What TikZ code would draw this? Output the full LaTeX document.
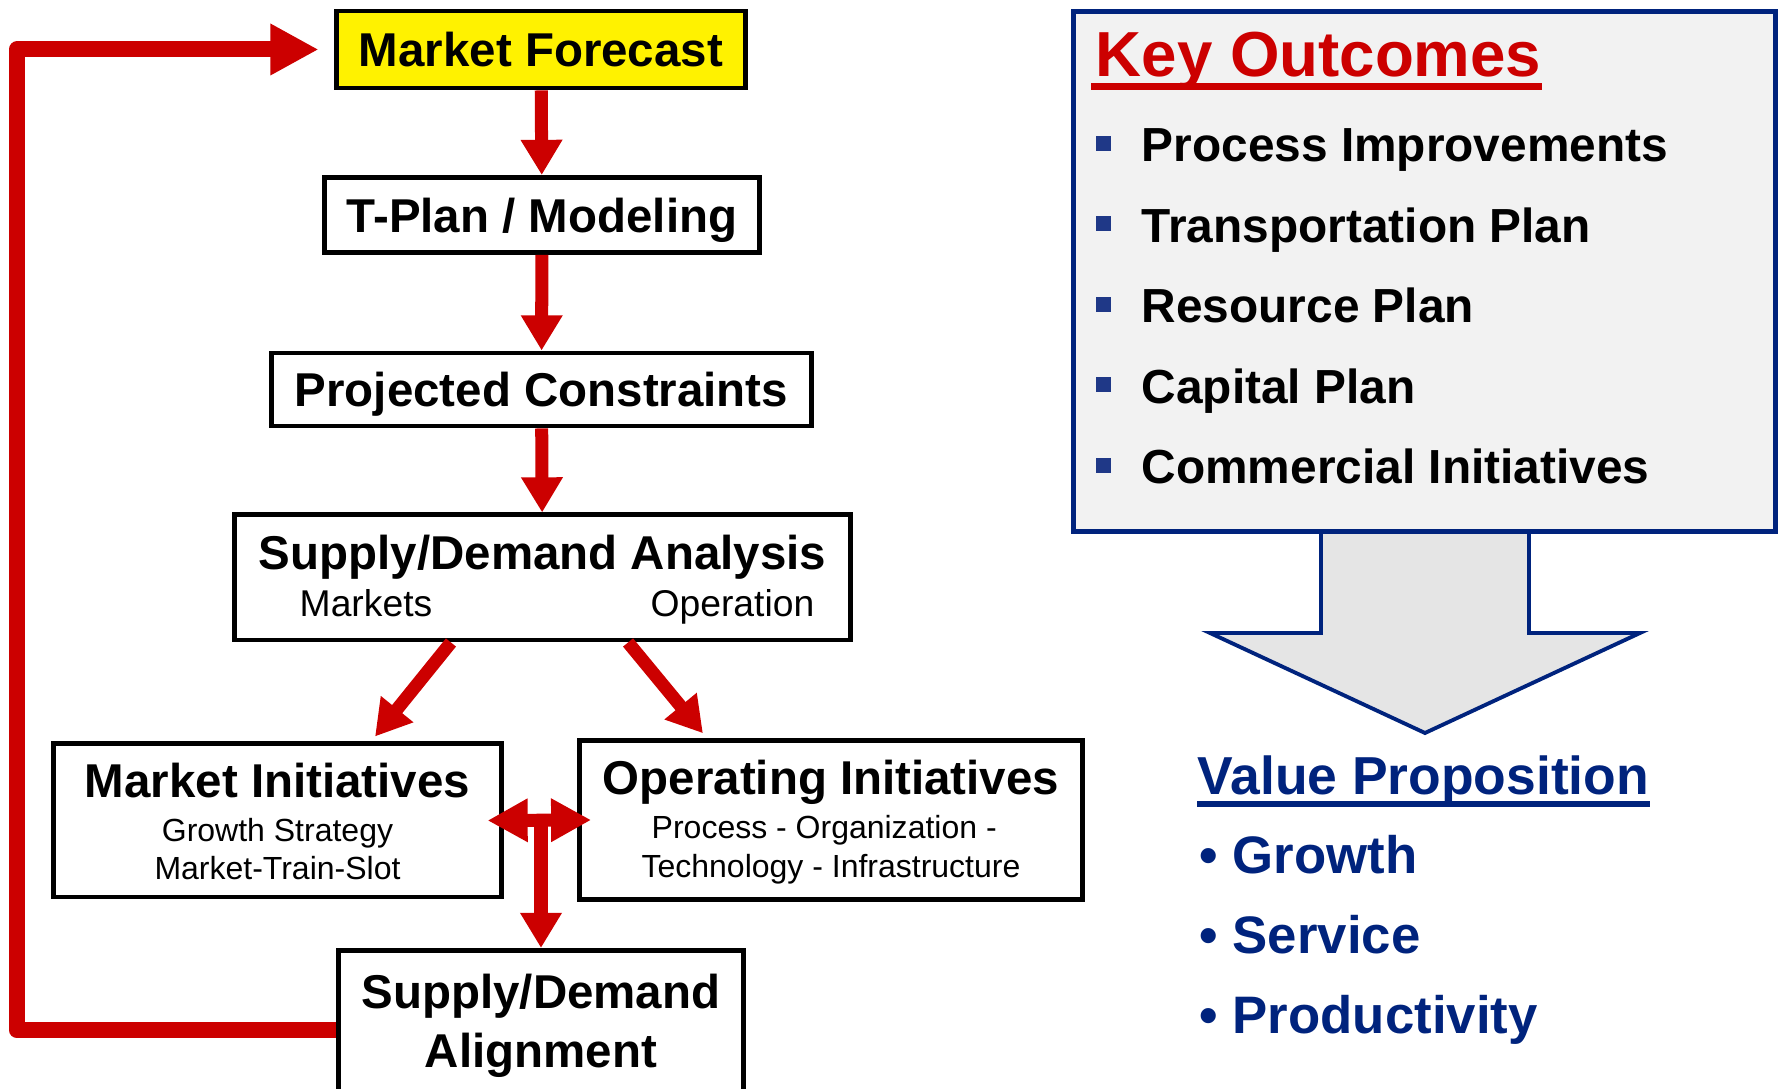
\documentclass[tikz,border=0pt]{standalone}
\usepackage{fontspec}
\setmainfont{Liberation Sans}
\usetikzlibrary{arrows.meta}
\definecolor{flowred}{RGB}{204,0,0}
\definecolor{navy}{RGB}{0,35,125}
\definecolor{bulletblue}{RGB}{31,56,135}
\definecolor{panelgray}{RGB}{242,242,242}
\definecolor{arrowgray}{RGB}{229,229,229}
\tikzset{
  box/.style={draw,line width=1.4pt,inner sep=0pt,fill=white},
  title/.style={font=\fontsize{13.5}{16}\selectfont\bfseries,inner sep=0pt},
  onetitle/.style={title,text height=9.7pt,text depth=0pt},
  sub/.style={font=\fontsize{9.1}{11}\selectfont,inner sep=0pt},
  flow/.style={color=flowred,line width=3.7pt,-{Triangle[length=10pt,width=11.2pt]}},
  twoway/.style={color=flowred,line width=3.7pt,{Triangle[length=11.4pt,width=11.6pt]}-{Triangle[length=11.4pt,width=11.6pt]}},
  feedback/.style={color=flowred,line width=4.55pt,line join=round,-{Triangle[length=13.7pt,width=13.7pt]}},
  item/.style={font=\fontsize{13.6}{16}\selectfont\bfseries,inner sep=0pt},
  vpitem/.style={font=\fontsize{15}{18}\selectfont\bfseries,color=navy,inner sep=0pt}
}
\begin{document}
\begin{tikzpicture}[x=0.01cm,y=-0.01cm]
  \useasboundingbox (0,0) rectangle (1781,1089);
  \clip (0,0) rectangle (1781,1089);
  % flow chart
  \node[box,fill=yellow,onetitle,minimum width=4.08cm,minimum height=0.77cm] (mf) at (541,49.5) {Market Forecast};
  \node[box,onetitle,minimum width=4.34cm,minimum height=0.75cm] (tplan) at (542,215) {T-Plan / Modeling};
  \node[box,onetitle,minimum width=5.39cm,minimum height=0.73cm] (proj) at (541.5,389.5) {Projected Constraints};
  \node[box,minimum width=6.15cm,minimum height=1.25cm] (sda) at (542.5,577.5) {};
  \node[title,anchor=base] (sdat) at (542.5,570) {Supply/Demand Analysis};
  \node[font=\fontsize{10.6}{12}\selectfont,inner sep=0pt,anchor=base west] (mkts) at (299,617) {Markets};
  \node[font=\fontsize{10.6}{12}\selectfont,inner sep=0pt,anchor=base east] (oper) at (815,617) {Operation};
  \node[box,minimum width=4.47cm,minimum height=1.53cm] (mi) at (277.5,820.5) {};
  \node[title,anchor=base] (mit) at (277.5,798) {Market Initiatives};
  \node[sub,anchor=base] (mi1) at (277.5,842) {Growth Strategy};
  \node[sub,anchor=base] (mi2) at (277.5,880) {Market-Train-Slot};
  \node[box,minimum width=5.035cm,minimum height=1.585cm] (oi) at (831,820) {};
  \node[title,anchor=base] (oit) at (831,795) {Operating Initiatives};
  \node[sub,anchor=base west] (oi1) at (651,839) {Process - Organization -};
  \node[sub,anchor=base] (oi2) at (831,878) {Technology - Infrastructure};
  \node[box,minimum width=4.055cm,minimum height=1.595cm] (sdal) at (541,1030.25) {};
  \node[title,anchor=base] (sdal1) at (541,1009) {Supply/Demand};
  \node[title,anchor=base] (sdal2) at (541,1068) {Alignment};
  % arrows
  \draw[flow] (mf) -- (tplan);
  \draw[flow] (tplan) -- (proj);
  \draw[flow] (proj) -- (sda);
  \draw[flow] ([xshift=-0.915cm]sda.south) -- ([xshift=0.975cm,yshift=0.05cm]mi.north);
  \draw[flow] ([xshift=0.855cm]sda.south) -- ([xshift=-1.28cm,yshift=0.05cm]oi.north);
  \draw[twoway] ([xshift=-0.16cm]mi.east) -- ([xshift=0.145cm]oi.west);
  \draw[flow] (mi.east -| sdal.north) -- (sdal.north);
  \coordinate (back) at (17,0);
  \draw[feedback,shorten >=4.5pt] (sdal.west) -| (back |- mf.west) -- (mf.west);
  % outcomes panel
  \filldraw[fill=arrowgray,draw=navy,line width=1.1pt] (1321,520) -- (1321,633) -- (1210,633) -- (1425,733) -- (1640,633) -- (1529,633) -- (1529,520) -- cycle;
  \node[draw=navy,line width=1.4pt,fill=panelgray,inner sep=0pt,minimum width=7.015cm,minimum height=5.19cm] (outcomes) at (1424.75,271.5) {};
  \node[font=\fontsize{18.1}{22}\selectfont\bfseries,color=flowred,inner sep=0pt,anchor=base west] (kotitle) at (1095,77) {Key Outcomes};
  \draw[flowred,line width=2pt] ([xshift=-1pt,yshift=-2.7pt]kotitle.base west) -- ([yshift=-2.7pt]kotitle.base east);
  \foreach \txt [count=\i from 0] in {Process Improvements,Transportation Plan,Resource Plan,Capital Plan,Commercial Initiatives}{
    \node[fill=bulletblue,inner sep=0pt,minimum size=0.15cm] (sq\i) at (1103.5,{143.5+80.5*\i}) {};
    \node[item,anchor=base west] (ko\i) at (1141,{162+80.5*\i}) {\txt};
  }
  \node[vpitem,font=\fontsize{15.2}{18}\selectfont\bfseries,anchor=base west] (vptitle) at (1197,795) {Value Proposition};
  \draw[navy,line width=1.7pt] ([yshift=-2.6pt]vptitle.base west) -- ([yshift=-2.6pt]vptitle.base east);
  \foreach \txt [count=\i from 0] in {Growth,Service,Productivity}
    \node[vpitem,anchor=base west] (vp\i) at (1199,{874+80*\i}) {• \txt};
\end{tikzpicture}
\end{document}
